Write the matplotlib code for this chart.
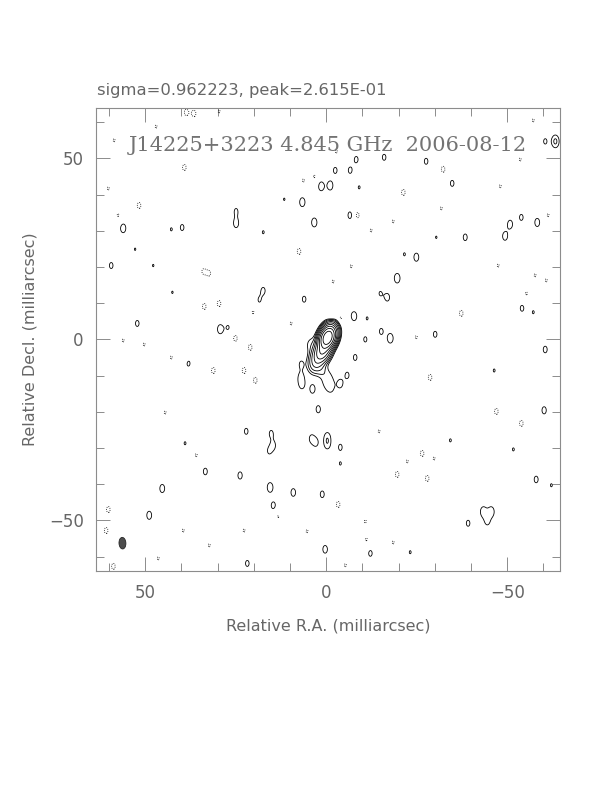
import numpy as np
import matplotlib
matplotlib.use("Agg")
import matplotlib.pyplot as plt
from matplotlib.patches import Ellipse
from matplotlib.ticker import MultipleLocator

# header texts
sigma_txt = "sigma=0.962223, peak=2.615E-01"
source_txt = "J14225+3223 4.845 GHz  2006-08-12"

# contour levels (Jy/beam): lowest positive level doubled n times, one negative level
base_level = 0.00048
n_levels = 10

# restoring beam (mas, deg)
beam_major = 3.2
beam_minor = 1.9
beam_pa = -3.0
beam_x = 56.3
beam_y = -56.3

# core / jet components: offset (mas), peak (Jy/beam), size (mas), pa (deg)
comp_x = [-0.4, 1.0, 2.6, 4.0, -0.5, 1.4]
comp_y = [0.5, -3.2, -5.8, -1.5, -11.6, -8.5]
comp_amp = [0.23, 0.03, 0.006, 0.0007, 0.00095, 0.0006]
comp_major = [3.8, 3.8, 4.3, 4.0, 6.2, 3.0]
comp_minor = [2.4, 2.6, 2.8, 3.0, 3.0, 2.2]
comp_pa = [-20.0, -20.0, -15.0, 0.0, 15.0, -10.0]

# positive noise islands: RA, Dec offset (mas), peak in units of lowest level
pos_x = [1.4, -1.1, 6.6, 24.9, 24.9, 3.3, 56.1, 39.8, 42.8, 17.4, 59.4, 17.4, 18.5, 6.1,
         52.2, 29.3, 27.1, -63.3, -60.5, -8.3, -16.0, -27.6, -2.5, -6.6, -9.1, -34.8,
         -6.6, -53.9, -58.3, -50.8, -49.4, -38.4, -21.6, -24.9, -19.6, -14.9, -16.9,
         -2.8, -5.3, -7.7, -11.3, -54.1, -57.2, -15.2, -17.7, -10.8, -30.1, -60.5,
         -8.0, -46.4, -3.9, -5.8, -60.2, -34.3, -51.7, -3.9, -3.9, -58.0, -62.2, -43.4,
         -45.6, -44.5, -39.2, -12.2, -23.2, 38.1, 6.9, 7.0, 6.7, 3.8, 2.2, 22.1, 15.2,
         39.0, 14.6, 15.8, 4.1, 2.8, -0.3, -0.3, 33.4, 23.8, 15.5, 9.1, 1.1, 45.3, 14.6,
         48.9, 0.3, 21.8, 52.8, 47.8, 42.5, 11.6, -30.4]
pos_y = [42.3, 42.5, 37.9, 35.4, 32.0, 32.3, 30.7, 30.9, 30.4, 29.6, 20.4, 13.5, 10.8, 11.1,
         4.4, 2.8, 3.3, 54.7, 54.7, 49.7, 50.3, 49.2, 46.7, 46.7, 42.0, 43.1,
         34.3, 33.7, 32.3, 31.8, 28.5, 28.2, 23.5, 22.7, 16.9, 12.7, 11.6,
         8.6, 8.3, 6.4, 5.8, 8.6, 7.5, 2.2, 0.3, 0.0, 1.4, -2.8,
         -5.0, -8.6, -12.2, -9.9, -19.6, -27.9, -30.4, -29.8, -34.3, -38.7, -40.3, -47.6,
         -47.6, -50.2, -50.8, -59.1, -58.8, -6.6, -6.9, -10.5, -12.5, -13.7, -19.3, -25.4, -26.0,
         -28.7, -29.3, -30.9, -27.4, -28.5, -27.0, -29.0, -36.5, -37.6, -40.9, -42.3, -42.8, -41.2, -45.9,
         -48.6, -58.0, -61.9, 24.9, 20.4, 13.0, 38.7, 28.2]
pos_amp = [1.5, 1.5, 1.5, 1.15, 1.4, 1.5, 1.5, 1.2, 1.05, 1.05, 1.2, 1.2, 1.05, 1.2,
           1.2, 1.5, 1.05, 2.3, 1.15, 1.2, 1.2, 1.2, 1.2, 1.2, 1.05, 1.2,
           1.3, 1.2, 1.4, 1.4, 1.4, 1.25, 1.05, 1.4, 1.6, 1.05, 1.3,
           1.05, 1.05, 1.5, 1.05, 1.2, 1.05, 1.2, 1.6, 1.15, 1.2, 1.25,
           1.2, 1.05, 1.3, 1.2, 1.3, 1.05, 1.05, 1.2, 1.05, 1.25, 1.05, 1.6,
           1.6, 1.3, 1.2, 1.2, 1.05, 1.2, 1.2, 1.3, 1.3, 1.45, 1.3, 1.2, 1.2,
           1.05, 1.2, 1.05, 1.2, 1.2, 1.4, 1.4, 1.25, 1.3, 1.6, 1.35, 1.25, 1.4, 1.3,
           1.4, 1.35, 1.2, 1.03, 1.03, 1.03, 1.03, 1.03]

# negative noise islands
neg_x = [38.7, 36.5, 29.6, 39.2, 3.3, 6.3, 51.7, 57.5, 60.2, 7.5, 34.0, 32.3, 33.7, 29.6,
         20.2, 9.7, 25.1, 47.0, 58.6, -2.8, -32.3, -53.6, -48.1, -21.3, -8.6, -61.3,
         -12.4, -18.5, -31.8, -6.9, -47.5, -57.7, -60.8, -55.3, -1.9, -37.3, -57.2,
         -24.9, 56.1, 50.3, 42.8, 39.5, 31.2, 22.7, 19.6, 21.0, 44.5, 35.9, 60.2, 60.8,
         39.5, 22.7, 13.3, 5.3, 32.3, 46.4, 58.8, -28.7, -47.0, -53.9, -14.6, -26.5,
         -22.4, -29.8, -19.6, -27.9, -3.3, -10.8, -11.1, -18.5, -5.3, -1.5, -4.0]
neg_y = [62.7, 62.4, 63.0, 47.5, 45.0, 43.9, 37.0, 34.3, 41.7, 24.3, 18.8, 18.2, 9.1, 9.9,
         7.5, 4.4, 0.3, 58.8, 55.0, 51.9, 47.0, 49.7, 42.3, 40.6, 34.3, 34.3,
         30.1, 32.6, 36.2, 20.2, 20.4, 17.7, 16.3, 12.7, 16.0, 7.2, 60.5,
         0.6, -0.3, -1.4, -5.0, -4.4, -8.6, -8.6, -11.3, -2.2, -20.2, -32.0, -47.0, -52.8,
         -52.8, -52.8, -48.9, -53.0, -56.9, -60.5, -62.7, -10.5, -19.9, -23.2, -25.4, -31.5,
         -33.7, -32.9, -37.3, -38.4, -45.6, -50.3, -55.3, -56.1, -62.4, 6.5, 6.0]
neg_amp = [1.2, 1.2, 1.05, 1.2, 1.05, 1.05, 1.2, 1.05, 1.05, 1.2, 1.05, 1.05, 1.2, 1.2,
           1.05, 1.05, 1.2, 1.05, 1.05, 1.05, 1.2, 1.05, 1.05, 1.2, 1.2, 1.05,
           1.05, 1.05, 1.05, 1.05, 1.05, 1.05, 1.05, 1.05, 1.05, 1.2, 1.05,
           1.05, 1.05, 1.05, 1.05, 1.05, 1.2, 1.2, 1.2, 1.2, 1.05, 1.05, 1.2, 1.2,
           1.05, 1.05, 1.05, 1.05, 1.05, 1.05, 1.2, 1.2, 1.2, 1.2, 1.05, 1.2,
           1.05, 1.05, 1.2, 1.2, 1.2, 1.05, 1.05, 1.05, 1.05, 1.2, 1.2]

# ---- build the map ----
step = 0.1
gx = np.arange(-66.0, 66.0 + step / 2, step)
gy = np.arange(-66.0, 66.0 + step / 2, step)
X, Y = np.meshgrid(gx, gy)
img = np.zeros_like(X)

fwhm = 2.3548
for cx, cy, a, maj, mnr, pa in zip(comp_x, comp_y, comp_amp, comp_major, comp_minor, comp_pa):
    t = np.radians(pa)
    dx, dy = X - cx, Y - cy
    along = dx * np.sin(t) + dy * np.cos(t)
    across = dx * np.cos(t) - dy * np.sin(t)
    img += a * np.exp(-0.5 * ((along / (maj / fwhm)) ** 2 + (across / (mnr / fwhm)) ** 2))

sx = beam_minor / fwhm
sy = beam_major / fwhm


def add_island(cx, cy, a):
    ix0 = np.searchsorted(gx, cx - 6 * sx)
    ix1 = np.searchsorted(gx, cx + 6 * sx)
    iy0 = np.searchsorted(gy, cy - 6 * sy)
    iy1 = np.searchsorted(gy, cy + 6 * sy)
    ex = np.exp(-0.5 * ((gx[ix0:ix1] - cx) / sx) ** 2)
    ey = np.exp(-0.5 * ((gy[iy0:iy1] - cy) / sy) ** 2)
    img[iy0:iy1, ix0:ix1] += a * np.outer(ey, ex)


for cx, cy, a in zip(pos_x, pos_y, pos_amp):
    add_island(cx, cy, a * base_level)
for cx, cy, a in zip(neg_x, neg_y, neg_amp):
    add_island(cx, cy, -a * base_level)

# ---- plot ----
fig = plt.figure(figsize=(6.12, 7.92), dpi=100)
ax = fig.add_axes([0.157, 0.279, 0.758, 0.585])

levels = base_level * 2.0 ** np.arange(n_levels)
ax.contour(X, Y, img, levels=levels, colors="k", linewidths=0.6)
ax.contour(X, Y, img, levels=[-base_level], colors="k", linewidths=0.6,
           linestyles=[(0, (1, 1.5))])

ax.add_patch(Ellipse((beam_x, beam_y), beam_minor, beam_major, angle=beam_pa,
                     facecolor="0.3", edgecolor="0.15", lw=0.6))

ax.set_xlim(63.5, -64.5)
ax.set_ylim(-64, 64)
ax.set_aspect("equal", adjustable="box")

ax.xaxis.set_major_locator(MultipleLocator(50))
ax.yaxis.set_major_locator(MultipleLocator(50))
ax.xaxis.set_minor_locator(MultipleLocator(10))
ax.yaxis.set_minor_locator(MultipleLocator(10))
ax.tick_params(which="both", direction="in", top=True, right=True, color="0.55", width=0.7)
ax.tick_params(which="major", length=10, labelsize=12, labelcolor="0.4", pad=9)
ax.tick_params(which="minor", length=6)
for s in ax.spines.values():
    s.set_color("0.55")
    s.set_linewidth(0.8)

ax.set_xlabel("Relative R.A. (milliarcsec)", fontsize=11.5, color="0.4", labelpad=12)
ax.set_ylabel("Relative Decl. (milliarcsec)", fontsize=11.5, color="0.4", labelpad=8)

fig.text(97 / 612, 1 - 90 / 792, sigma_txt, ha="left", va="center", fontsize=11.8, color="0.4")
ax.text(0.5, 0.918, source_txt, transform=ax.transAxes, ha="center", va="center",
        fontsize=15, color="0.45", family="DejaVu Serif")

fig.savefig("out.png", dpi=100)
